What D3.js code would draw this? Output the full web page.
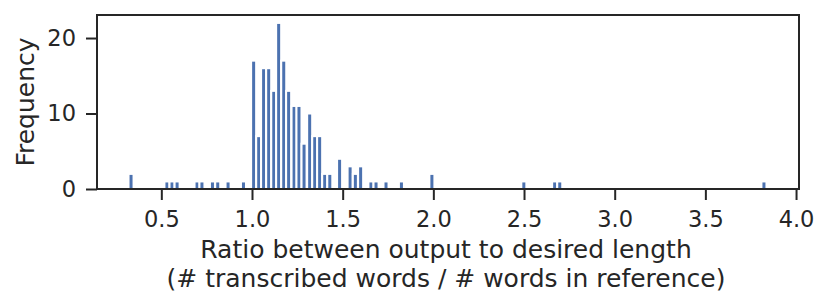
<!DOCTYPE html>
<html><head><meta charset="utf-8">
<script src="https://cdn.jsdelivr.net/npm/d3@7"></script>
<style>html,body{margin:0;padding:0;background:#fff;}</style>
</head><body>
<script>
// Bin centers (ratio) and counts
const binCenters = [0.333,0.531,0.559,0.587,0.697,0.724,0.782,0.811,0.868,0.953,
  1.009,1.037,1.064,1.092,1.120,1.147,1.175,1.202,1.232,1.259,1.287,1.318,1.346,1.373,
  1.401,1.429,1.483,1.541,1.570,1.599,1.656,1.684,1.739,1.824,1.992,2.499,2.669,2.697,3.823];
const counts = [2,1,1,1,1,1,1,1,1,1,
  17,7,16,16,13,22,17,13,11,11,6,10,7,7,
  2,2,4,3,2,3,1,1,1,1,2,1,1,1,1];
const binWidth = 0.0276;
const xTicks = [0.5,1.0,1.5,2.0,2.5,3.0,3.5,4.0];
const yTicks = [0,10,20];
const xLabelLines = ["Ratio between output to desired length","(# transcribed words / # words in reference)"];
const yLabel = "Frequency";

const W = 831, H = 308;
const m = {left:97, right:799, top:15, bottom:189};
const svg = d3.select("body").append("svg").attr("width",W).attr("height",H)
  .style("font-family","'DejaVu Sans', sans-serif");
const x = d3.scaleLinear().domain([0.1453, 4.0163]).range([m.left, m.right]);
const y = d3.scaleLinear().domain([0, 23.05]).range([m.bottom, m.top]);
const ink = "#262626";

svg.append("g").selectAll("rect").data(binCenters).join("rect")
  .attr("x", (d)=>x(d - binWidth/2))
  .attr("width", (d)=>x(d + binWidth/2) - x(d - binWidth/2))
  .attr("y", (d,i)=>y(counts[i]))
  .attr("height", (d,i)=>y(0)-y(counts[i]))
  .attr("fill","#4c72b0").attr("stroke","#fff").attr("stroke-width",2);

const xa = svg.append("g").attr("transform",`translate(0,${m.bottom})`)
  .call(d3.axisBottom(x).tickValues(xTicks).tickFormat(d3.format(".1f")).tickSize(11).tickSizeOuter(0));
const ya = svg.append("g").attr("transform",`translate(${m.left},0)`)
  .call(d3.axisLeft(y).tickValues(yTicks).tickSize(11).tickSizeOuter(0));
[xa,ya].forEach(g=>{
  g.select(".domain").remove();
  g.selectAll(".tick line").attr("stroke",ink).attr("stroke-width",2);
  g.selectAll(".tick text").attr("fill",ink).style("font-size","22.5px").style("font-family","'DejaVu Sans', sans-serif");
});
xa.selectAll(".tick text").attr("y",38).attr("dy",0);
ya.selectAll(".tick text").attr("x",-21);

svg.append("rect").attr("x",m.left).attr("y",m.top).attr("width",m.right-m.left).attr("height",m.bottom-m.top)
  .attr("fill","none").attr("stroke",ink).attr("stroke-width",2);

svg.append("text").attr("transform",`translate(34,${(m.top+m.bottom)/2}) rotate(-90)`)
  .attr("text-anchor","middle").attr("fill",ink).style("font-size","25px").text(yLabel);
xLabelLines.forEach((t,i)=>{
  svg.append("text").attr("x",(m.left+m.right)/2 - 2).attr("y",258+i*29)
    .attr("text-anchor","middle").attr("fill",ink).style("font-size","25px").text(t);
});
</script>
</body></html>
